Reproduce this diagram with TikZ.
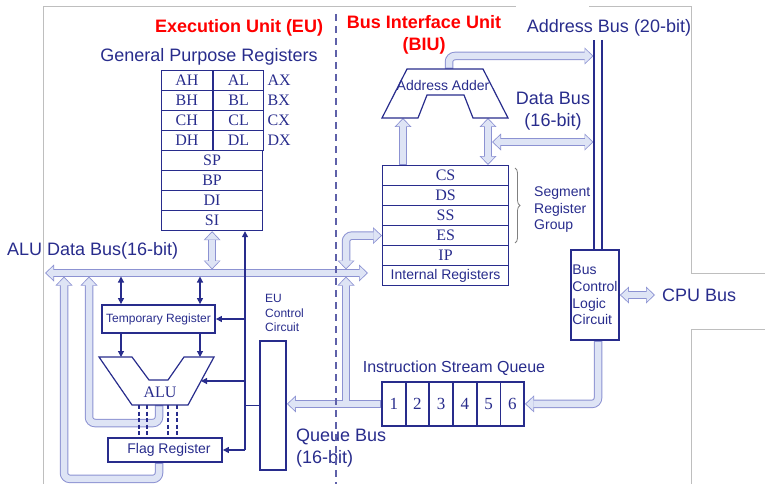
\documentclass[tikz,border=0pt]{standalone}
\usepackage{fontspec}
\setmainfont{Liberation Serif}
\setsansfont{Liberation Sans}
\usepackage{tikz}
\usetikzlibrary{arrows.meta,positioning,backgrounds,decorations.pathreplacing}

\definecolor{navy}{RGB}{40,44,140}
\definecolor{busedge}{RGB}{140,146,210}
\definecolor{busfill}{RGB}{222,228,245}
\definecolor{titlered}{RGB}{255,0,0}
\definecolor{framegray}{RGB}{190,190,190}

\tikzset{
  lbl/.style={text=navy, inner sep=0pt, font=\sffamily\fontsize{18}{22}\selectfont},
  lblmid/.style={lbl, font=\sffamily\fontsize{16}{19}\selectfont},
  lblsm/.style={lbl, font=\sffamily\fontsize{14}{16.7}\selectfont},
  lbltiny/.style={lbl, font=\sffamily\fontsize{12}{14.4}\selectfont},
  title/.style={lbl, text=titlered, font=\sffamily\bfseries\fontsize{18}{22.4}\selectfont},
  reg/.style={draw=navy, line width=1.2pt, minimum height=20pt, inner sep=0pt, text=navy,
    font=\fontsize{16}{16}\selectfont, anchor=north west},
  box/.style={draw=navy, line width=1.8pt, inner sep=0pt, text=navy},
  sig/.style={draw=navy, line width=1.2pt, >={Triangle[length=6pt,width=6pt]}},
  busout/.style={draw=busedge, line width=8.5pt, >={Triangle[width=17pt,length=9pt,line width=0pt]}},
  busin/.style={draw=busfill, line width=6.5pt, >={Triangle[width=13.5pt,length=7pt,line width=0pt]},
    shorten >=1.3pt, shorten <=1.3pt},
  addrbus/.style={draw=navy, line width=1.3pt, double=white, double distance=6.7pt},
}

\begin{document}
\begin{tikzpicture}[x=1pt,y=-1pt]
  \useasboundingbox (0,0) rectangle (765,484);

  % Frame
  \draw[framegray, line width=1pt] (43,484) -- (43,6.5) -- (516,6.5);
  \draw[framegray, line width=1pt] (589,6.5) -- (691,6.5) -- (691,273) -- (765,273);
  \draw[framegray, line width=1pt] (765,329) -- (691,329) -- (691,484);

  % Titles
  \node[title, anchor=base] (eutitle) at (239,32.5) {Execution Unit (EU)};
  \node[title, align=center] (biutitle) at (424,35) {Bus Interface Unit\\(BIU)};

  % General purpose registers
  \node[lbl, anchor=base] (gpr) at (209,62) {General Purpose Registers};
  \foreach \hi/\lo/\pair [count=\i] in {AH/AL/AX,BH/BL/BX,CH/CL/CX,DH/DL/DX} {
    \node[reg, minimum width=50.5pt] (\hi) at (161,{50+20*\i}) {\hi};
    \node[reg, minimum width=50.5pt] (\lo) at (\hi.north east) {\lo};
    \node[lbl, font=\fontsize{16}{16}\selectfont, right=3pt of \lo] (\pair) {\pair};
  }
  \foreach \r [count=\i] in {SP,BP,DI,SI}
    \node[reg, minimum width=101pt] (\r) at (161,{130+20*\i}) {\r};

  % ALU data bus
  \node[lbl, anchor=base west] (alubuslabel) at (7,255) {ALU Data Bus(16-bit)};
  \coordinate (busl) at (45,273);
  \coordinate (busr) at (368,273);
  \coordinate (busup) at (0,269.5);
  \coordinate (busdn) at (0,276.5);

  % Temporary register, ALU, flag register
  \node[box, minimum width=113pt, minimum height=28pt, font=\sffamily\fontsize{12}{12}\selectfont] (temp) at (158.5,319) {Temporary Register};
  \draw[navy, line width=1.2pt] (99,357) -- (132,357) -- (149,380) -- (168,380) -- (184,357)
    -- (214,357) -- (188,405) -- (132,405) -- cycle;
  \node[lbl, anchor=base, font=\fontsize{16}{16}\selectfont] (alu) at (160,397.7) {ALU};
  \node[box, minimum width=114pt, minimum height=24pt, font=\sffamily\fontsize{14}{14}\selectfont] (flag) at (165,450) {\hspace{8pt}Flag Register};
  \coordinate (aluout) at (159,405);
  \coordinate (aluin) at (201,381);
  \coordinate (aluret) at (89,276.5);
  \coordinate (flagret) at (64,276.5);
  \coordinate (lanea) at (121,357);
  \coordinate (laneb) at (200,357);
  \coordinate (ctl) at (245,450);

  % EU control circuit
  \node[box, minimum width=26pt, minimum height=129pt] (euc) at (273,405.5) {};
  \node[lbltiny, anchor=north west, align=left] (euclabel) at (265,294.5) {EU\\Control\\Circuit};

  % Address adder
  \draw[navy, line width=1.2pt] (407,69) -- (483,69) -- (508,118) -- (473,118) -- (464,95)
    -- (427,95) -- (418,118) -- (382,118) -- cycle;
  \node[lblsm, anchor=base] (adder) at (443,90.7) {Address Adder};
  \coordinate (addout) at (449,69);
  \coordinate (addinl) at (403,118);
  \coordinate (addinr) at (488,118);
  \coordinate (dbus) at (492,142);

  % Segment registers
  \foreach \s [count=\i] in {CS,DS,SS,ES,IP}
    \node[reg, minimum width=126pt] (\s) at (382,{145+20*\i}) {\s};
  \node[reg, minimum width=126pt, font=\sffamily\fontsize{14}{14}\selectfont] (intreg) at (382,265) {Internal Registers};
  \draw[gray, line width=0.8pt, decorate, decoration={brace, amplitude=5pt}] (515,168) -- (515,243);
  \node[lblsm, anchor=west, align=left] (seglabel) at (534,209.6) {Segment\\Register\\Group};

  % Instruction queue
  \node[lblmid, anchor=base] (isq) at (454,372.3) {Instruction Stream Queue};
  \foreach \n in {1,...,6}
    \node[box, anchor=north west, minimum width=23.7pt, minimum height=44pt, font=\fontsize{17}{17}\selectfont] (q\n) at ({381+23.7*(\n-1)},381) {\n};
  \node[lbl, anchor=west, align=left] (qbuslabel) at (296,448) {Queue Bus\\(16-bit)};

  % Bus control logic
  \node[box, minimum width=48pt, minimum height=90pt, align=left, font=\sffamily\fontsize{14}{16.7}\selectfont] (bcl) at (595,295) {Bus\\Control\\Logic\\Circuit};
  \node[lbl, anchor=base] (abuslabel) at (609,32.3) {Address Bus (20-bit)};
  \node[lbl, align=center] (dbuslabel) at (553,111.3) {Data Bus\\(16-bit)};
  \node[lbl, anchor=base west] (cpulabel) at (662,301.7) {CPU Bus};
  \coordinate (abus) at (598,40);
  \coordinate (abl) at (593.5,0);
  \coordinate (cpubus) at (655,295);
  \coordinate (biulane) at (346,0);

  % Address bus
  \draw[addrbus] (abus) -- (abus |- bcl.north);

  % Hollow buses
  \begin{scope}[on background layer]
    \foreach \pass in {busout,busin} {
      \draw[\pass,<->] (busl) -- (busr);
      \draw[\pass,<->] (SI.south) -- (SI.south |- busup);
      \draw[\pass,->,rounded corners=6pt] (aluout) -- ++(0,18) -| (aluret);
      \draw[\pass,->,rounded corners=6pt] (flag.south -| aluout) -- ++(0,16) -| (flagret);
      \draw[\pass,<->,rounded corners=6pt] (ES.west) -| (biulane |- busup);
      \draw[\pass,->] (q1.west) -- (q1.west -| euc.east);
      \draw[\pass,->] (q1.west -| biulane) -- (biulane |- busdn);
      \draw[\pass,->,rounded corners=6pt] (abus |- bcl.south) |- (q6.east);
      \draw[\pass,->,rounded corners=6pt] (addout) |- (abl |- 0,56);
      \draw[\pass,->] (addinl |- CS.north) -- (addinl);
      \draw[\pass,<->] (addinr |- CS.north) -- (addinr);
      \draw[\pass,<->] (dbus) -- (abl |- dbus);
      \draw[\pass,<->] (bcl.east) -- (cpubus);
    }
  \end{scope}

  % Control lines
  \draw[sig,->] (ctl) -- (ctl |- SI.south);
  \draw[sig,->] (ctl |- temp.east) -- (temp.east);
  \draw[sig,->] (ctl |- aluin) -- (aluin);
  \draw[sig] (ctl |- euc.west) -- (euc.west);
  \draw[sig,->] (ctl) -- (flag.east);
  \draw[sig,<->] (lanea |- busdn) -- (lanea |- temp.north);
  \draw[sig,<->] (laneb |- busdn) -- (laneb |- temp.north);
  \draw[sig,->] (lanea |- temp.south) -- (lanea);
  \draw[sig,->] (laneb |- temp.south) -- (laneb);
  \foreach \x in {139,147,168,177}
    \draw[sig, dash pattern=on 4pt off 2.5pt] (\x,405) -- (\x,0 |- flag.north);

  % EU / BIU boundary
  \draw[navy!75, line width=1.2pt, dash pattern=on 7pt off 5pt] (336,14) -- (336,484);
\end{tikzpicture}
\end{document}
